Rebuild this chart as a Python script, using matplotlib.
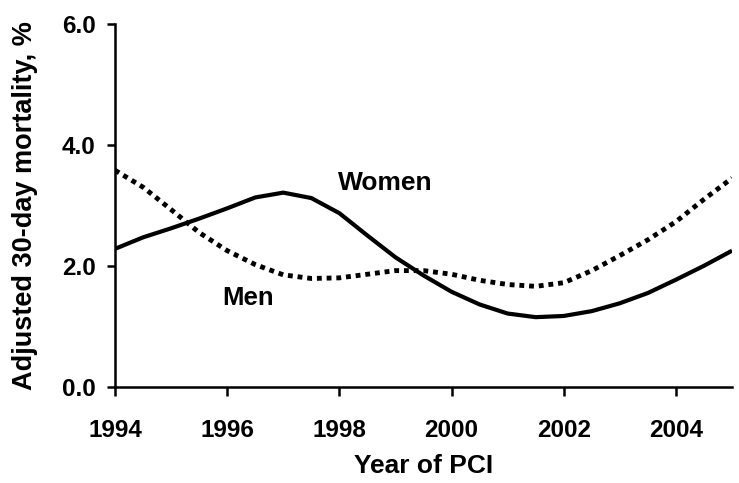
import matplotlib
matplotlib.use('Agg')
import matplotlib.pyplot as plt

years = [1994.0, 1994.5, 1995.0, 1995.5, 1996.0, 1996.5, 1997.0, 1997.5,
         1998.0, 1998.5, 1999.0, 1999.5, 2000.0, 2000.5, 2001.0, 2001.5,
         2002.0, 2002.5, 2003.0, 2003.5, 2004.0, 2004.5, 2005.0]
women = [2.28, 2.47, 2.62, 2.78, 2.95, 3.13, 3.21, 3.12, 2.87, 2.50, 2.14, 1.84,
         1.57, 1.36, 1.21, 1.15, 1.17, 1.25, 1.38, 1.55, 1.77, 2.00, 2.25]
men = [3.58, 3.30, 2.93, 2.55, 2.25, 2.02, 1.85, 1.79, 1.80, 1.86, 1.92, 1.92,
       1.86, 1.76, 1.69, 1.66, 1.72, 1.92, 2.17, 2.43, 2.73, 3.10, 3.45]

xticks = [1994, 1996, 1998, 2000, 2002, 2004]
yticks = [0.0, 2.0, 4.0, 6.0]

plt.rcParams['font.family'] = ['Liberation Sans', 'DejaVu Sans']
plt.rcParams['font.weight'] = 'bold'

fig = plt.figure(figsize=(7.39, 4.83), dpi=100)
ax = fig.add_axes([0.1556, 0.1994, 0.835, 0.751])

ax.plot(years, women, color='black', lw=3.0, solid_capstyle='butt')
ax.plot(years, men, color='black', lw=3.5, linestyle=(0, (1, 1)),
        dash_capstyle='butt')

ax.text(1998.82, 3.37, 'Women', fontsize=19, fontweight='bold', ha='center', va='center')
ax.text(1996.37, 1.47, 'Men', fontsize=18.5, fontweight='bold', ha='center', va='center')

ax.set_xlim(1994, 2005)
ax.set_ylim(0, 6)
ax.set_xticks(xticks)
ax.set_xticklabels([str(t) for t in xticks])
ax.set_yticks(yticks)
ax.set_yticklabels([f'{t:.1f}' for t in yticks])

for s in ['top', 'right']:
    ax.spines[s].set_visible(False)
for s in ['left', 'bottom']:
    ax.spines[s].set_linewidth(1.8)

ax.tick_params(axis='both', direction='out', width=1.8, labelsize=17.5)
ax.tick_params(axis='x', length=6.5, pad=16.5)
ax.tick_params(axis='y', length=6, pad=8)
ax.set_xlabel('Year of PCI', fontsize=19, fontweight='bold', labelpad=9)
ax.set_ylabel('Adjusted 30-day mortality, %', fontsize=19.5, fontweight='bold', labelpad=17)

fig.savefig('out.png', dpi=100)
